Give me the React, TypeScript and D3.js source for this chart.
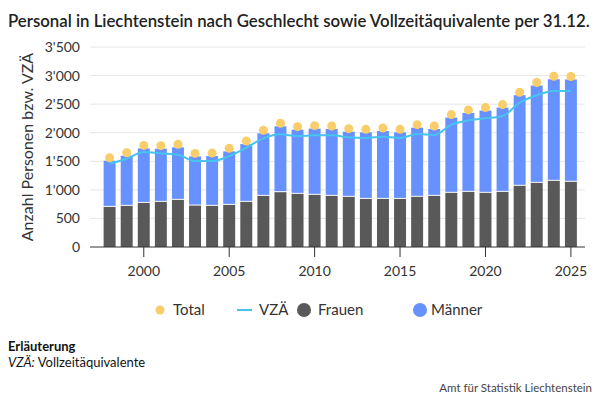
import React from "react";
import * as d3 from "d3";

const years = d3.range(1998, 2026);
const frauen = [702, 720, 772, 790, 825, 725, 720, 737, 790, 895, 959, 930, 913, 895, 878, 842, 842, 842, 878, 895, 948, 965, 948, 965, 1071, 1123, 1158, 1141];
const total = [1562, 1650, 1778, 1773, 1796, 1638, 1644, 1726, 1854, 2042, 2165, 2106, 2124, 2118, 2071, 2059, 2083, 2059, 2141, 2118, 2317, 2399, 2440, 2492, 2709, 2878, 2989, 2984];
const vza = [1457, 1545, 1661, 1638, 1615, 1503, 1503, 1591, 1737, 1901, 1971, 1942, 1954, 1954, 1919, 1907, 1931, 1907, 1977, 1960, 2141, 2217, 2252, 2293, 2527, 2656, 2732, 2732];
const maenner = total.map((t, i) => t - frauen[i]);
const yTicks = [0, 500, 1000, 1500, 2000, 2500, 3000, 3500];
const xTicks = [2000, 2005, 2010, 2015, 2020, 2025];

const C = { frauen: "#595959", maenner: "#6691ff", total: "#f8cd6a", vza: "#47c3f0" };
const font = "Lato, 'Open Sans', sans-serif";

export default function App() {
  const W = 600, H = 400;
  const x = d3.scaleBand<number>().domain(years).range([98.5, 582]).padding(0.3);
  const y = d3.scaleLinear().domain([0, 3500]).range([247, 47]);
  const cx = (yr: number) => (x(yr) || 0) + x.bandwidth() / 2;
  const fmt = (v: number) => d3.format(",")(v).replace(/,/g, "'");
  const line = d3.line<number>().x((_, i) => cx(years[i])).y((v) => y(v)).curve(d3.curveMonotoneX);

  return (
    <div style={{ position: "fixed", left: 0, top: 0, width: W, height: H, overflow: "hidden" }}>
    <svg width={W} height={H} style={{ display: "block", fontFamily: font }}>
      <rect width={W} height={H} fill="#fff" />
      <text x={8} y={27} fontSize={16.8} fontWeight={600} fill="#222">Personal in Liechtenstein nach Geschlecht sowie Vollzeitäquivalente per 31.12.</text>
      {yTicks.map((t) => (
        <g key={t}>
          {t > 0 && <line x1={90} x2={585} y1={y(t)} y2={y(t)} stroke="#e6e6e6" />}
          <text x={80} y={y(t) + 5} textAnchor="end" fontSize={14} fill="#333">{fmt(t)}</text>
        </g>
      ))}
      <text transform={`translate(33,${y(1750)}) rotate(-90)`} textAnchor="middle" fontSize={16} fill="#333">Anzahl Personen bzw. VZÄ</text>
      {years.map((yr, i) => (
        <g key={yr}>
          <rect x={x(yr)} y={y(frauen[i])} width={x.bandwidth()} height={y(0) - y(frauen[i])} fill={C.frauen} />
          <rect x={x(yr)} y={y(total[i]) + 3} width={x.bandwidth()} height={y(frauen[i]) - y(total[i]) - 4} fill={C.maenner} />
        </g>
      ))}
      <path d={line(vza) || ""} fill="none" stroke={C.vza} strokeWidth={2} />
      {years.map((yr, i) => (
        <circle key={yr} cx={cx(yr)} cy={y(total[i])} r={4.5} fill={C.total} />
      ))}
      <line x1={90} x2={585} y1={y(0)} y2={y(0)} stroke="#333" />
      {xTicks.map((t) => (
        <g key={t}>
          <line x1={cx(t)} x2={cx(t)} y1={y(0)} y2={y(0) + 10} stroke="#333" />
          <text x={cx(t)} y={y(0) + 29} textAnchor="middle" fontSize={14} fill="#333">{t}</text>
        </g>
      ))}
      <g fontSize={15} fill="#333">
        <circle cx={160} cy={310} r={4.5} fill={C.total} />
        <text x={173} y={315}>Total</text>
        <line x1={237} x2={252} y1={310} y2={310} stroke={C.vza} strokeWidth={2} />
        <text x={259} y={315}>VZÄ</text>
        <circle cx={304} cy={310} r={7} fill={C.frauen} />
        <text x={318} y={315}>Frauen</text>
        <circle cx={420} cy={310} r={7} fill={C.maenner} />
        <text x={431} y={315}>Männer</text>
      </g>
      <text x={8} y={351} fontSize={13} fontWeight={700} fill="#111">Erläuterung</text>
      <text x={8} y={367} fontSize={13} fill="#111"><tspan fontStyle="italic">VZÄ:</tspan> Vollzeitäquivalente</text>
      <text x={592} y={392} textAnchor="end" fontSize={11.5} fill="#444">Amt für Statistik Liechtenstein</text>
    </svg>
    </div>
  );
}
